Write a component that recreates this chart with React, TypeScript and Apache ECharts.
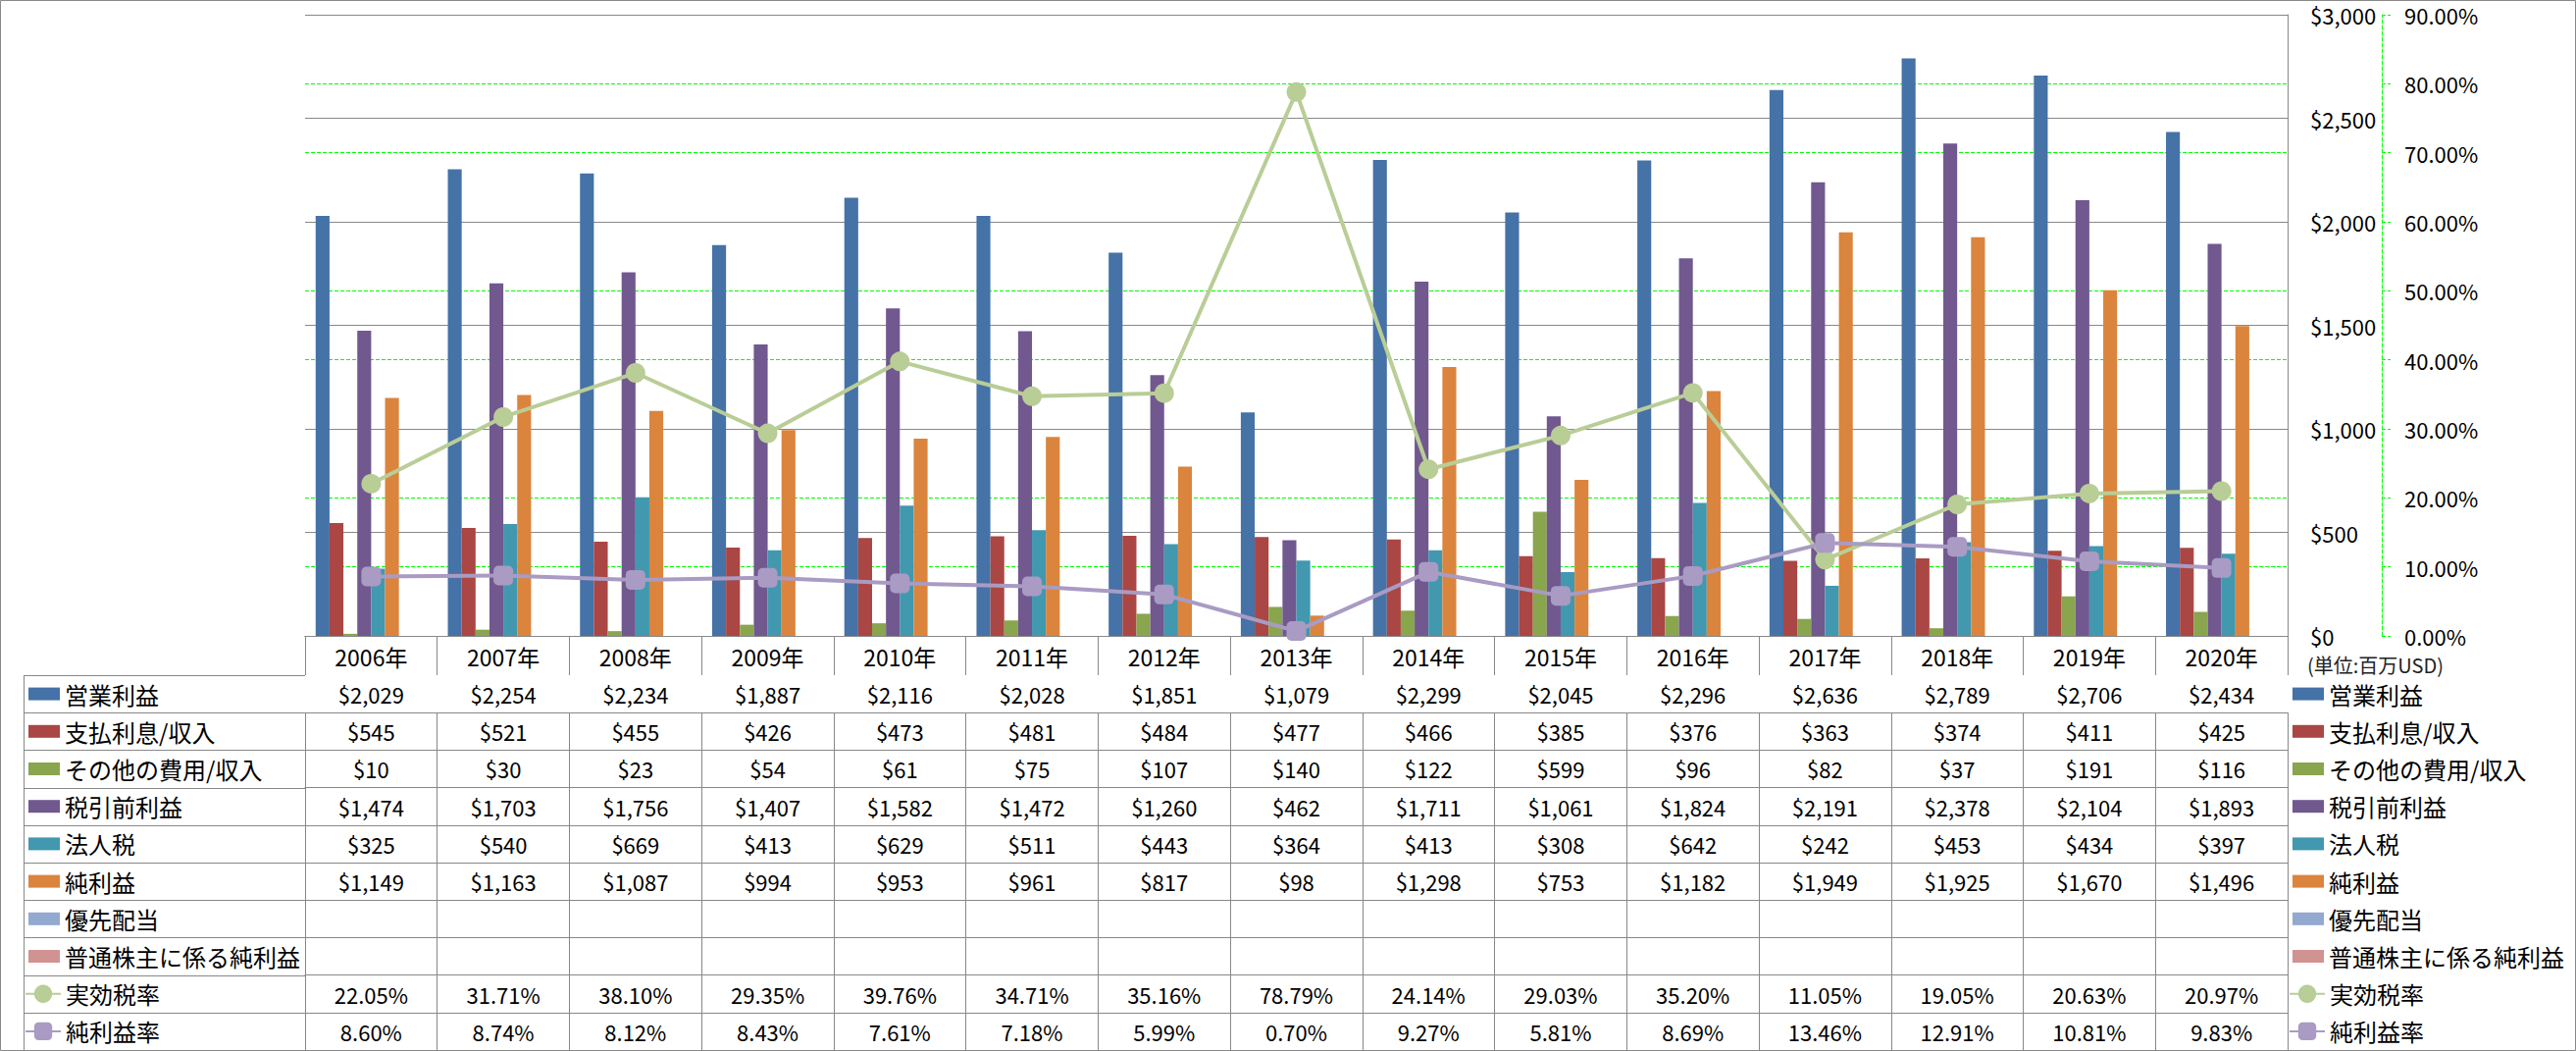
import React, { useEffect, useRef } from 'react';
import * as echarts from 'echarts';

// ---------- data ----------
const years = ['2006年', '2007年', '2008年', '2009年', '2010年', '2011年', '2012年', '2013年', '2014年', '2015年', '2016年', '2017年', '2018年', '2019年', '2020年'];

const operatingIncome = [2029, 2254, 2234, 1887, 2116, 2028, 1851, 1079, 2299, 2045, 2296, 2636, 2789, 2706, 2434];
const interestExpense = [545, 521, 455, 426, 473, 481, 484, 477, 466, 385, 376, 363, 374, 411, 425];
const otherExpense = [10, 30, 23, 54, 61, 75, 107, 140, 122, 599, 96, 82, 37, 191, 116];
const pretaxIncome = [1474, 1703, 1756, 1407, 1582, 1472, 1260, 462, 1711, 1061, 1824, 2191, 2378, 2104, 1893];
const incomeTax = [325, 540, 669, 413, 629, 511, 443, 364, 413, 308, 642, 242, 453, 434, 397];
const netIncome = [1149, 1163, 1087, 994, 953, 961, 817, 98, 1298, 753, 1182, 1949, 1925, 1670, 1496];
const preferredDividends = [null, null, null, null, null, null, null, null, null, null, null, null, null, null, null];
const netIncomeCommon = [null, null, null, null, null, null, null, null, null, null, null, null, null, null, null];
const effectiveTaxRate = [22.05, 31.71, 38.1, 29.35, 39.76, 34.71, 35.16, 78.79, 24.14, 29.03, 35.2, 11.05, 19.05, 20.63, 20.97];
const netMargin = [8.6, 8.74, 8.12, 8.43, 7.61, 7.18, 5.99, 0.7, 9.27, 5.81, 8.69, 13.46, 12.91, 10.81, 9.83];

const barNames = ['営業利益', '支払利息/収入', 'その他の費用/収入', '税引前利益', '法人税', '純利益', '優先配当', '普通株主に係る純利益'];
const lineNames = ['実効税率', '純利益率'];

const leftAxisMax = 3000;
const leftAxisInterval = 500;
const rightAxisMax = 90;
const rightAxisInterval = 10;
const unitLabel = '(単位:百万USD)';

// ---------- styles ----------
const barColors = ['#4572A7', '#AA4643', '#89A54E', '#71588F', '#4198AF', '#DB843D', '#93A9CF', '#D19392'];
const lineColors = ['#B9CD96', '#A99BC3'];
const GRAY = '#888888';
const GREEN = '#00FF00';
const FONT = '"Noto Sans CJK JP", "Noto Sans", sans-serif';

const W = 2626;
const H = 1071;
const GRID_LEFT = 311;
const GRID_TOP = 15;
const GRID_W = 2021;
const GRID_H = 633;
const HEADER_H = 40;
const ROW_H = 38.2;
const TABLE_LEFT = 24;

const fmtMoney = (v: number) => '$' + v.toLocaleString('en-US');
const fmtPct = (v: number) => v.toFixed(2) + '%';

export default function App() {
  const ref = useRef<HTMLDivElement>(null);

  useEffect(() => {
    if (!ref.current) return;
    document.body.style.margin = '0';
    const chart = echarts.init(ref.current, undefined, { renderer: 'svg' });

    const barData = [operatingIncome, interestExpense, otherExpense, pretaxIncome, incomeTax, netIncome, preferredDividends, netIncomeCommon];
    const lineData = [effectiveTaxRate, netMargin];

    const rows = [
      ...barData.map((d) => ({ values: d as (number | null)[], fmt: fmtMoney })),
      ...lineData.map((d) => ({ values: d as (number | null)[], fmt: fmtPct })),
    ];

    const gridBottomY = GRID_TOP + GRID_H;
    const tableTop = gridBottomY + HEADER_H;

    const xAxes: any[] = [
      {
        type: 'category',
        data: years,
        position: 'bottom',
        axisLine: { show: true, lineStyle: { color: GRAY, width: 1 } },
        axisTick: { show: true, interval: 0, length: HEADER_H, lineStyle: { color: GRAY } },
        axisLabel: { interval: 0, margin: 9, fontSize: 23, color: '#000', fontFamily: FONT },
        splitLine: { show: false },
      },
      ...rows.map((r, i) => ({
        type: 'category',
        data: years,
        position: 'bottom',
        offset: HEADER_H + ROW_H * i,
        axisLine: { show: true, lineStyle: { color: GRAY, width: 1 } },
        axisTick: { show: true, interval: 0, length: ROW_H + 0.5, lineStyle: { color: GRAY } },
        axisLabel: {
          interval: 0,
          margin: 8,
          fontSize: 22,
          color: '#000',
          fontFamily: FONT,
          formatter: (_v: string, idx: number) => {
            const val = r.values[idx];
            return val == null ? '' : r.fmt(val);
          },
        },
        splitLine: { show: false },
      })),
    ];

    const graphics: any[] = [
      {
        type: 'rect',
        shape: { x: 0.5, y: 0.5, width: W - 1, height: H - 1 },
        style: { fill: 'none', stroke: GRAY, lineWidth: 1 },
        silent: true,
      },
      {
        type: 'line',
        shape: { x1: TABLE_LEFT + 0.5, y1: tableTop, x2: TABLE_LEFT + 0.5, y2: H },
        style: { stroke: GRAY, lineWidth: 1 },
        silent: true,
      },
      ...Array.from({ length: rows.length + 1 }, (_, i) => {
        const y = Math.round(tableTop + ROW_H * i) + 0.5;
        return {
          type: 'line',
          shape: { x1: TABLE_LEFT, y1: y, x2: GRID_LEFT, y2: y },
          style: { stroke: GRAY, lineWidth: 1 },
          silent: true,
        };
      }),
      {
        type: 'text',
        x: GRID_LEFT + GRID_W + 20,
        y: tableTop - 11,
        style: {
          text: unitLabel,
          fontSize: 20,
          fontFamily: FONT,
          fill: '#222',
          verticalAlign: 'middle',
          textVerticalAlign: 'middle',
          align: 'left',
        },
        silent: true,
      },
    ];

    const legendCommon = {
      orient: 'vertical',
      padding: 0,
      itemGap: ROW_H - 24,
      selectedMode: false,
      textStyle: { fontSize: 24, lineHeight: 24, color: '#000', fontFamily: FONT },
    };
    const row0Center = tableTop + ROW_H / 2;
    const row8Center = tableTop + ROW_H * 8 + ROW_H / 2;

    const legends = [
      { ...legendCommon, left: TABLE_LEFT + 5, top: row0Center - 12, data: barNames, icon: 'rect', itemWidth: 32, itemHeight: 13 },
      { ...legendCommon, left: TABLE_LEFT + 1, top: row8Center - 12, data: lineNames, itemWidth: 36, itemHeight: 23 },
      { ...legendCommon, left: GRID_LEFT + GRID_W + 5, top: row0Center - 12, data: barNames, icon: 'rect', itemWidth: 32, itemHeight: 13 },
      { ...legendCommon, left: GRID_LEFT + GRID_W + 1, top: row8Center - 12, data: lineNames, itemWidth: 36, itemHeight: 23 },
    ];

    const option: any = {
      animation: false,
      textStyle: { fontFamily: FONT },
      grid: { left: GRID_LEFT, top: GRID_TOP, width: GRID_W, height: GRID_H, containLabel: false },
      legend: legends,
      xAxis: xAxes,
      yAxis: [
        {
          type: 'value',
          position: 'right',
          min: 0,
          max: leftAxisMax,
          interval: leftAxisInterval,
          z: 1,
          axisLine: { show: true, lineStyle: { color: GRAY } },
          axisTick: { show: false },
          splitLine: { show: true, lineStyle: { color: GRAY, width: 1 } },
          axisLabel: { margin: 23, fontSize: 22, color: '#000', fontFamily: FONT, formatter: (v: number) => fmtMoney(v) },
        },
        {
          type: 'value',
          position: 'right',
          offset: 96,
          min: 0,
          max: rightAxisMax,
          interval: rightAxisInterval,
          z: 0,
          axisLine: { show: true, lineStyle: { color: GREEN, type: [4, 2], width: 1 } },
          axisTick: { show: true, length: 9, lineStyle: { color: GREEN, type: [4, 2] } },
          splitLine: { show: true, lineStyle: { color: GREEN, type: [4, 2], width: 1 } },
          axisLabel: { margin: 23, fontSize: 22, color: '#000', fontFamily: FONT, formatter: (v: number) => fmtPct(v) },
        },
      ],
      graphic: graphics,
      series: [
        ...barData.map((d, i) => ({
          name: barNames[i],
          type: 'bar',
          xAxisIndex: 0,
          yAxisIndex: 0,
          data: d,
          barGap: '0%',
          barCategoryGap: '16%',
          itemStyle: { color: barColors[i] },
          silent: true,
        })),
        ...lineData.map((d, i) => ({
          name: lineNames[i],
          type: 'line',
          xAxisIndex: 0,
          yAxisIndex: 1,
          data: d,
          symbol: i === 0 ? 'circle' : 'roundRect',
          symbolSize: 20,
          lineStyle: { color: lineColors[i], width: 4 },
          itemStyle: { color: lineColors[i] },
          z: 3,
          silent: true,
        })),
      ],
    };

    chart.setOption(option);
    return () => chart.dispose();
  }, []);

  return <div ref={ref} style={{ width: W, height: H, position: 'absolute', left: 0, top: 0, background: '#fff' }} />;
}
